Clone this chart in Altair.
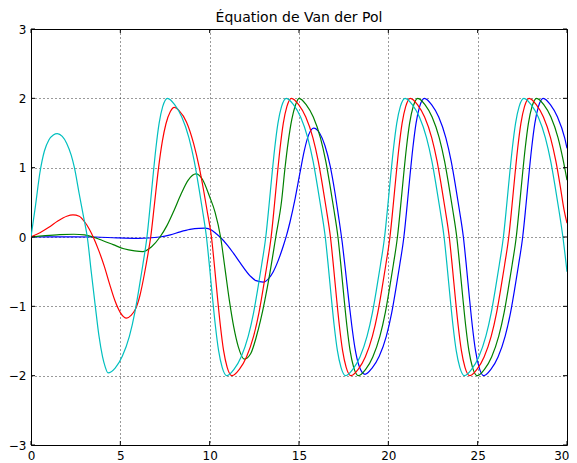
import altair as alt
import pandas as pd

TITLE = "Équation de Van der Pol"
X_TICKS = [0, 5, 10, 15, 20, 25, 30]
Y_TICKS = [-3, -2, -1, 0, 1, 2, 3]

# ---- values ----
BLUE_T = [0, 2.4, 3.6, 4.8, 6.0, 7.2, 7.8, 8.35, 8.9, 9.4, 9.75, 10.1, 10.35, 10.58, 11.0, 11.32, 11.7, 12.26, 12.6, 13.0,
          13.3, 13.56, 13.85, 14.12, 14.31, 14.5, 14.78, 15.05, 15.3, 15.55, 15.82, 16.15, 16.45, 16.75, 17.0, 17.2, 17.42,
          17.6, 17.78, 17.95, 18.13, 18.35, 18.69,
          19.09, 19.49, 19.89, 20.19, 20.44, 20.64, 20.87, 21.05, 21.21, 21.37, 21.55, 21.75, 22.02,
          22.42, 22.82, 23.22, 23.52, 23.77, 23.97, 24.2, 24.38, 24.54, 24.7, 24.88, 25.08, 25.34,
          25.74, 26.14, 26.54, 26.84, 27.09, 27.29, 27.52, 27.7, 27.86, 28.02, 28.2, 28.4, 28.67,
          29.07, 29.47, 29.87, 30.0]
BLUE_Y = [0, 0.003, 0.0, -0.013, -0.02, 0.0, 0.03, 0.075, 0.11, 0.125, 0.127, 0.1, 0.05, 0.0, -0.12, -0.23, -0.37, -0.56, -0.63, -0.65,
          -0.6, -0.5, -0.33, -0.13, 0.03, 0.22, 0.55, 0.92, 1.25, 1.48, 1.57, 1.5, 1.32, 1.02, 0.66, 0.32, -0.08,
          -0.48, -0.9, -1.27, -1.6, -1.85, -1.98,
          -1.89, -1.72, -1.43, -1.09, -0.72, -0.40, 0.0, 0.45, 0.88, 1.28, 1.64, 1.88, 2.0,
          1.91, 1.73, 1.43, 1.09, 0.72, 0.40, 0.0, -0.45, -0.88, -1.28, -1.64, -1.88, -2.0,
          -1.91, -1.73, -1.43, -1.09, -0.72, -0.40, 0.0, 0.45, 0.88, 1.28, 1.64, 1.88, 2.0,
          1.91, 1.73, 1.43, 1.28]

GREEN_T = [0, 0.8, 1.6, 2.4, 3.0, 3.47, 4.0, 4.6, 5.2, 5.8, 6.25, 6.75, 7.22, 7.6, 8.0, 8.4, 8.8, 9.23, 9.6, 10.0,
           10.3, 10.61, 10.86, 11.1, 11.35, 11.6, 11.94, 12.3, 12.6, 12.85, 13.09, 13.35, 13.7, 14.03, 14.21, 14.4,
           14.6, 14.8, 15.0,
           15.4, 15.8, 16.2, 16.5, 16.75, 16.95, 17.18, 17.36, 17.52, 17.68, 17.86, 18.06, 18.33,
           18.73, 19.13, 19.53, 19.83, 20.08, 20.28, 20.51, 20.69, 20.85, 21.01, 21.19, 21.39, 21.65,
           22.05, 22.45, 22.85, 23.15, 23.4, 23.6, 23.83, 24.01, 24.17, 24.33, 24.51, 24.71, 24.98,
           25.38, 25.78, 26.18, 26.48, 26.73, 26.93, 27.16, 27.34, 27.5, 27.66, 27.84, 28.04, 28.3,
           28.7, 29.1, 29.5, 29.8, 30.0]
GREEN_Y = [0, 0.02, 0.035, 0.04, 0.03, 0.0, -0.05, -0.11, -0.17, -0.2, -0.21, -0.14, 0.0, 0.16, 0.38, 0.62, 0.82, 0.91, 0.83, 0.58,
           0.36, 0.0, -0.46, -0.91, -1.3, -1.58, -1.76, -1.68, -1.45, -1.2, -0.91, -0.55, 0.0, 0.53, 0.98, 1.38,
           1.7, 1.9, 2.0,
           1.91, 1.73, 1.43, 1.09, 0.72, 0.40, 0.0, -0.45, -0.88, -1.28, -1.64, -1.88, -2.0,
           -1.91, -1.73, -1.43, -1.09, -0.72, -0.40, 0.0, 0.45, 0.88, 1.28, 1.64, 1.88, 2.0,
           1.91, 1.73, 1.43, 1.09, 0.72, 0.40, 0.0, -0.45, -0.88, -1.28, -1.64, -1.88, -2.0,
           -1.91, -1.73, -1.43, -1.09, -0.72, -0.40, 0.0, 0.45, 0.88, 1.28, 1.64, 1.88, 2.0,
           1.91, 1.73, 1.43, 1.09, 0.82]

RED_T = [0, 0.5, 1.0, 1.5, 2.0, 2.35, 2.7, 3.0, 3.25, 3.5, 3.8, 4.1, 4.4, 4.7, 5.0, 5.35, 5.6, 5.85, 6.1, 6.35,
         6.55, 6.7, 6.9, 7.13, 7.35, 7.55, 7.8, 8.02,
         8.3, 8.7, 9.1, 9.42, 9.67, 9.87, 10.1, 10.28, 10.44, 10.6, 10.78, 10.98, 11.25,
         11.66, 12.06, 12.46, 12.76, 13.01, 13.21, 13.44, 13.62, 13.78, 13.94, 14.12, 14.32, 14.58,
         14.98, 15.38, 15.78, 16.08, 16.33, 16.53, 16.76, 16.94, 17.1, 17.26, 17.44, 17.64, 17.91,
         18.31, 18.71, 19.11, 19.41, 19.66, 19.86, 20.09, 20.27, 20.43, 20.59, 20.77, 20.97, 21.23,
         21.63, 22.03, 22.43, 22.73, 22.98, 23.18, 23.41, 23.59, 23.75, 23.91, 24.09, 24.29, 24.56,
         24.96, 25.36, 25.76, 26.06, 26.31, 26.51, 26.74, 26.92, 27.08, 27.24, 27.42, 27.62, 27.88,
         28.28, 28.68, 29.08, 29.38, 29.63, 29.83, 30.0]
RED_Y = [0, 0.06, 0.14, 0.23, 0.30, 0.32, 0.30, 0.22, 0.12, -0.01, -0.2, -0.42, -0.68, -0.92, -1.09, -1.17, -1.13, -1.04, -0.84, -0.53,
         -0.24, 0.0, 0.45, 0.98, 1.38, 1.63, 1.81, 1.87,
         1.82, 1.66, 1.35, 1.0, 0.66, 0.36, 0.0, -0.45, -0.88, -1.28, -1.64, -1.88, -2.0,
         -1.91, -1.73, -1.43, -1.09, -0.72, -0.40, 0.0, 0.45, 0.88, 1.28, 1.64, 1.88, 2.0,
         1.91, 1.73, 1.43, 1.09, 0.72, 0.40, 0.0, -0.45, -0.88, -1.28, -1.64, -1.88, -2.0,
         -1.91, -1.73, -1.43, -1.09, -0.72, -0.40, 0.0, 0.45, 0.88, 1.28, 1.64, 1.88, 2.0,
         1.91, 1.73, 1.43, 1.09, 0.72, 0.40, 0.0, -0.45, -0.88, -1.28, -1.64, -1.88, -2.0,
         -1.91, -1.73, -1.43, -1.09, -0.72, -0.40, 0.0, 0.45, 0.88, 1.28, 1.64, 1.88, 2.0,
         1.91, 1.73, 1.43, 1.09, 0.72, 0.40, 0.2]

CYAN_T = [0, 0.25, 0.5, 0.75, 1.0, 1.25, 1.47, 1.75, 2.0, 2.25, 2.43, 2.7, 2.95, 3.15, 3.38, 3.6, 3.8, 4.0, 4.15, 4.31,
          4.71, 5.11, 5.51, 5.81, 6.06, 6.26, 6.49, 6.67, 6.83, 6.99, 7.17, 7.37, 7.64,
          8.04, 8.44, 8.84, 9.14, 9.39, 9.59, 9.82, 10.0, 10.16, 10.32, 10.5, 10.7, 10.96,
          11.36, 11.76, 12.16, 12.46, 12.71, 12.91, 13.14, 13.32, 13.48, 13.64, 13.82, 14.02, 14.29,
          14.69, 15.09, 15.49, 15.79, 16.04, 16.24, 16.47, 16.65, 16.81, 16.97, 17.15, 17.35, 17.61,
          18.01, 18.41, 18.81, 19.11, 19.36, 19.56, 19.79, 19.97, 20.13, 20.29, 20.47, 20.67, 20.94,
          21.34, 21.74, 22.14, 22.44, 22.69, 22.89, 23.12, 23.3, 23.46, 23.62, 23.8, 24.0, 24.26,
          24.66, 25.06, 25.46, 25.76, 26.01, 26.21, 26.44, 26.62, 26.78, 26.94, 27.12, 27.32, 27.59,
          27.99, 28.39, 28.79, 29.09, 29.34, 29.54, 29.77, 30.0]
CYAN_Y = [0, 0.45, 0.93, 1.24, 1.40, 1.47, 1.49, 1.45, 1.35, 1.18, 1.0, 0.62, 0.28, 0.0, -0.52, -1.0, -1.42, -1.72, -1.87, -1.96,
          -1.89, -1.72, -1.43, -1.09, -0.72, -0.40, 0.0, 0.45, 0.88, 1.28, 1.64, 1.88, 2.0,
          1.91, 1.73, 1.43, 1.09, 0.72, 0.40, 0.0, -0.45, -0.88, -1.28, -1.64, -1.88, -2.0,
          -1.91, -1.73, -1.43, -1.09, -0.72, -0.40, 0.0, 0.45, 0.88, 1.28, 1.64, 1.88, 2.0,
          1.91, 1.73, 1.43, 1.09, 0.72, 0.40, 0.0, -0.45, -0.88, -1.28, -1.64, -1.88, -2.0,
          -1.91, -1.73, -1.43, -1.09, -0.72, -0.40, 0.0, 0.45, 0.88, 1.28, 1.64, 1.88, 2.0,
          1.91, 1.73, 1.43, 1.09, 0.72, 0.40, 0.0, -0.45, -0.88, -1.28, -1.64, -1.88, -2.0,
          -1.91, -1.73, -1.43, -1.09, -0.72, -0.40, 0.0, 0.45, 0.88, 1.28, 1.64, 1.88, 2.0,
          1.91, 1.73, 1.43, 1.09, 0.72, 0.40, 0.0, -0.5]

SERIES = [("b", BLUE_T, BLUE_Y, "#0000ff"),
          ("g", GREEN_T, GREEN_Y, "#008000"),
          ("r", RED_T, RED_Y, "#ff0000"),
          ("c", CYAN_T, CYAN_Y, "#00bfbf")]

W, H = 536, 416
xs = alt.Scale(domain=[0, 30], nice=False, zero=False)
ys = alt.Scale(domain=[-3, 3], nice=False, zero=False)
x_axis = alt.Axis(values=X_TICKS, format="d", grid=True, labelFlush=False, labelOverlap=False, title=None,
                  labelAlign=alt.condition("datum.value == 30", alt.value("right"), alt.value("center")),
                  labelOffset=alt.condition("datum.value == 30", alt.value(2), alt.value(0)))
y_axis = alt.Axis(values=Y_TICKS, format="d", grid=True, labelFlush=False, labelOverlap=False, title=None)

layers = []
for name, t, y, col in SERIES:
    df = pd.DataFrame({"t": t, "y": y})
    layers.append(
        alt.Chart(df).mark_line(color=col, strokeWidth=1.2, interpolate="monotone", clip=True)
        .encode(x=alt.X("t:Q", scale=xs, axis=x_axis, title=None),
                y=alt.Y("y:Q", scale=ys, axis=y_axis, title=None))
    )

xt = pd.DataFrame({"t": X_TICKS})
yt = pd.DataFrame({"y": Y_TICKS})
tick_len = 4
ticks = [
    alt.Chart(xt).mark_rule(color="black", strokeWidth=1).encode(
        x=alt.X("t:Q", scale=xs, axis=x_axis, title=None), y=alt.value(H), y2=alt.value(H - tick_len)),
    alt.Chart(xt).mark_rule(color="black", strokeWidth=1).encode(
        x=alt.X("t:Q", scale=xs, axis=x_axis, title=None), y=alt.value(0), y2=alt.value(tick_len)),
    alt.Chart(yt).mark_rule(color="black", strokeWidth=1).encode(
        y=alt.Y("y:Q", scale=ys, axis=y_axis, title=None), x=alt.value(0), x2=alt.value(tick_len)),
    alt.Chart(yt).mark_rule(color="black", strokeWidth=1).encode(
        y=alt.Y("y:Q", scale=ys, axis=y_axis, title=None), x=alt.value(W), x2=alt.value(W - tick_len)),
]

title_layer = alt.Chart(pd.DataFrame({"title": [TITLE]})).mark_text(
    font="DejaVu Sans", fontSize=14, color="black", align="center", baseline="alphabetic"
).encode(text="title:N", x=alt.value(W / 2), y=alt.value(-7))

chart = (
    alt.layer(*layers, *ticks, title_layer)
    .properties(
        width=W, height=H,
        autosize=alt.AutoSizeParams(type="none"),
        padding={"left": 23, "top": 21, "right": 2, "bottom": 17},
    )
    .configure_view(stroke="black", strokeWidth=1)
    .configure_axis(labelFont="DejaVu Sans", labelFontSize=12, labelColor="black", tickSize=0,
                    domain=False, gridColor="black", gridDash=[1, 3], gridWidth=0.8, gridOpacity=1,
                    labelPadding=5)
)

chart.save("out.html", embed_options={"renderer": "svg", "actions": False})
